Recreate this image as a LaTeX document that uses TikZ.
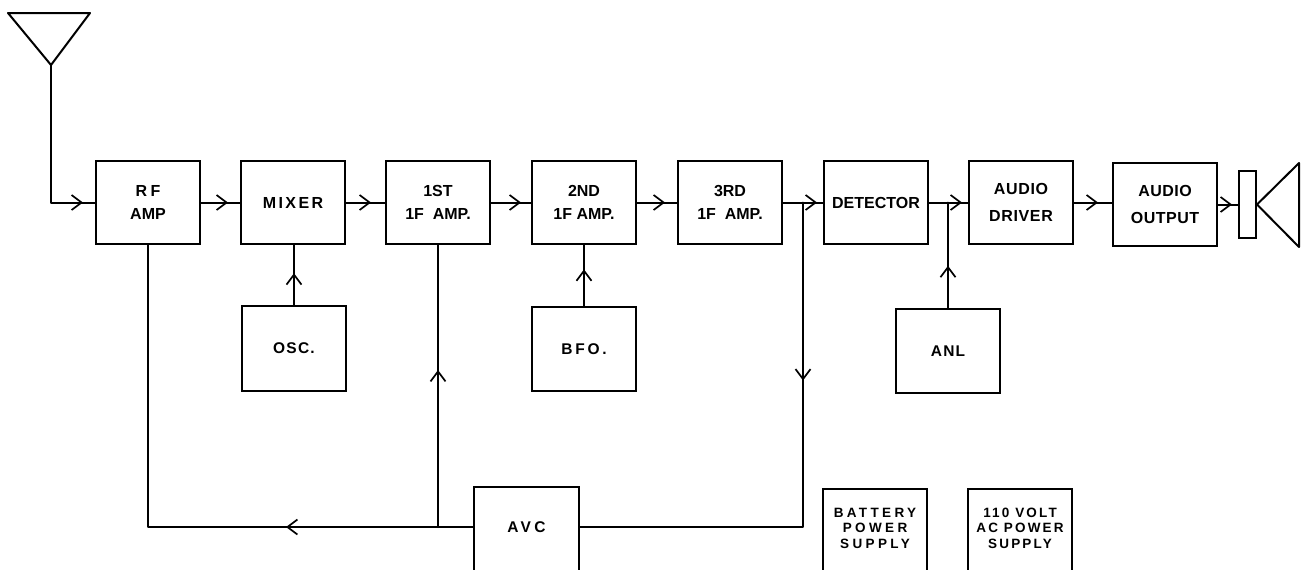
\documentclass[tikz,border=0pt]{standalone}
\usepackage{fontspec}
\setmainfont{Liberation Sans}
\usetikzlibrary{arrows.meta,decorations.markings,calc}
% \lblfont[baselineskip]{size}{letterspace}
\newcommand\lblfont[3][22.5]{\fontsize{#2}{#1}\selectfont\bfseries\addfontfeature{LetterSpace=#3}}
\tikzset{
  wire/.style={line width=2pt, line cap=round, line join=round},
  blk/.style={draw, line width=2pt, minimum width=104pt, minimum height=83pt,
    inner sep=0pt, align=center, font={\lblfont{16}{0}}},
  sblk/.style={draw, line width=2pt, minimum width=104pt, minimum height=113pt,
    inner sep=0pt},
  txt/.style={inner sep=0pt, align=center},
  tip/.style={postaction={decorate}, decoration={markings,
    mark=at position #1 with {\arrow[line width=1.7pt]{Straight Barb[length=10pt,width=15pt]}}}}
}
\begin{document}
\begin{tikzpicture}[x=1pt,y=-1pt]
\useasboundingbox (0,0) rectangle (1309,570);
\clip (0,0) rectangle (1309,570);
% antenna
\coordinate (ant) at (51,65);
\coordinate (antl) at (8,13);
\coordinate (antr) at (90,13);
\draw[wire] (antl) -- (antr) -- (ant) -- cycle;
% main chain
\node[blk] (rf)  at (148,202.5) {{\addfontfeature{LetterSpace=22}RF}\\AMP};
\node[blk, font={\lblfont{16}{15}}] (mix) at (293,202.5) {MIXER};
\node[blk] (if1) at (438,202.5) {1ST\\1F\ \ AMP.};
\node[blk] (if2) at (584,202.5) {2ND\\1F AMP.};
\node[blk] (if3) at (730,202.5) {3RD\\1F\ \ AMP.};
\node[blk] (det) at (876,202.5) {DETECTOR};
\node[blk, font={\lblfont[27]{16}{4}}] (drv) at (1021,202.5) {AUDIO\\DRIVER};
\node[blk, font={\lblfont[27]{16}{3}}] (out) at (1165,204.5) {AUDIO\\OUTPUT};
% speaker
\node[draw, line width=2pt, minimum width=17pt, minimum height=67pt, inner sep=0pt] (spk) at (1247.5,204.5) {};
\coordinate (cnt) at (1299,163);
\coordinate (cnb) at (1299,247);
\draw[wire] (spk.east) -- (cnt) -- (cnb) -- cycle;
% lower boxes
\node[blk, minimum height=85pt, font={\lblfont{15.5}{8}}] (osc) at (294,348.5) {OSC.};
\node[blk, minimum height=84pt, font={\lblfont{15.5}{18}}] (bfo) at (584,349) {BFO.};
\node[blk, minimum height=84pt, font={\lblfont{15.5}{8}}] (anl) at (948,351) {ANL};
\node[sblk, minimum width=105pt] (avc) at (526.5,543.5) {};
\node[txt, font={\lblfont{15.5}{22}}] (avct) at (526.5,527) {AVC};
\node[sblk] (bat) at (875,545.5) {};
\node[txt, font={\lblfont[15.5]{13.5}{25}}] (batt) at (875,528) {BATTERY\\POWER\\SUPPLY};
\node[sblk] (ac) at (1020,545.5) {};
\node[txt, font={\lblfont[15.5]{13.5}{16}}] (act) at (1020,528) {110 VOLT\\AC POWER\\SUPPLY};
% junctions
\coordinate (j3) at ($(if3.east)!0.5!(det.west)$);
\coordinate (jd) at ($(det.east)!0.5!(drv.west)$);
\coordinate (avcL) at ([yshift=16.5pt]avc.west);
\coordinate (avcR) at ([yshift=16.5pt]avc.east);
% signal path
\draw[wire, tip=-12pt] (ant) |- (rf.west);
\draw[wire, tip=-12pt] (rf.east) -- (mix.west);
\draw[wire, tip=-14pt] (mix.east) -- (if1.west);
\draw[wire, tip=-10pt] (if1.east) -- (if2.west);
\draw[wire, tip=-12pt] (if2.east) -- (if3.west);
\draw[wire, tip=-6pt] (if3.east) -- (det.west);
\draw[wire, tip=-6pt] (det.east) -- (drv.west);
\draw[wire, tip=-14pt] (drv.east) -- (drv.east -| out.west);
\draw[wire, tip=-6pt] (out.east) -- (spk.west);
% injections
\draw[wire, tip=0.53] (osc.north) -- (osc.north |- mix.south);
\draw[wire, tip=0.6] (bfo.north) -- (bfo.north |- if2.south);
\draw[wire, tip=0.4] (anl.north) -- (anl.north |- jd);
% AVC loop
\draw[wire, tip=178pt] (j3) -- (j3 |- avcR) -- (avcR);
\draw[wire, tip=187pt] (avcL) -- (rf.south |- avcL) -- (rf.south);
\draw[wire, tip=157pt] (if1.south |- avcL) -- (if1.south);
\end{tikzpicture}
\end{document}
